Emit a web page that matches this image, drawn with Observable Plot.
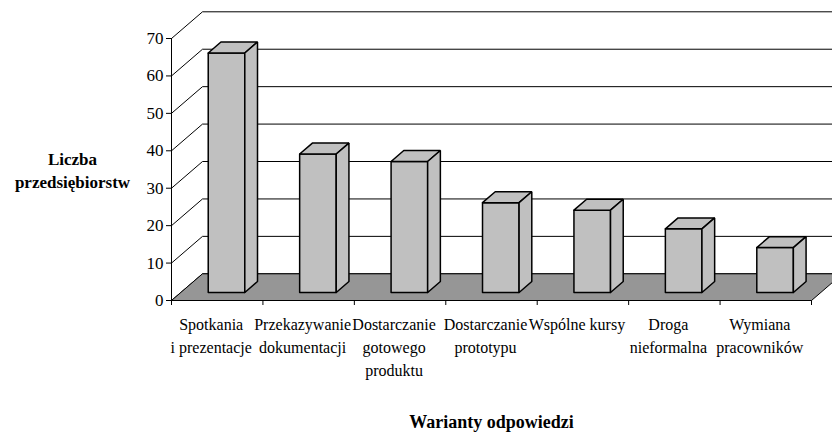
<!DOCTYPE html>
<html>
<head>
<meta charset="utf-8">
<script src="https://cdn.jsdelivr.net/npm/d3@7"></script>
<script src="https://cdn.jsdelivr.net/npm/@observablehq/plot@0.6"></script>
<style>
  html, body { margin: 0; padding: 0; background: #fff; overflow: hidden; }
</style>
</head>
<body>
<div id="chart"></div>
<script>
// ---- data ----
const categories = [
  "Spotkania\ni prezentacje",
  "Przekazywanie\ndokumentacji",
  "Dostarczanie\ngotowego\nproduktu",
  "Dostarczanie\nprototypu",
  "Wspólne kursy",
  "Droga\nnieformalna",
  "Wymiana\npracowników"
];
const values = [64, 37, 35, 24, 22, 17, 12];
const yTicks = [0, 10, 20, 30, 40, 50, 60, 70];
const yTitle = "Liczba\nprzedsiębiorstw";
const xTitle = "Warianty odpowiedzi";

// ---- layout / 3D projection ----
const W = 832, H = 432;
const margin = {top: 38, right: 21, bottom: 132, left: 171};
const n = categories.length;
const yMax = 70;
const depthPx = [31, 26.7];           // pixel shift from front plane to back wall
const pxPerX = (W - margin.left - margin.right) / n;
const pxPerY = (H - margin.top - margin.bottom) / yMax;
const DX = depthPx[0] / pxPerX;
const DY = depthPx[1] / pxPerY;
const proj = ([x, y, d]) => ({x: x + d * DX, y: y + d * DY});

const barHalf = 0.2, d0 = 0.3, d1 = 0.71;

// bar faces as closed polygons
const faces = [];
values.forEach((v, i) => {
  const c = i + 0.5, x0 = c - barHalf, x1 = c + barHalf;
  const quads = {
    front: [[x0, 0, d0], [x1, 0, d0], [x1, v, d0], [x0, v, d0]],
    top:   [[x0, v, d0], [x1, v, d0], [x1, v, d1], [x0, v, d1]],
    side:  [[x1, 0, d0], [x1, 0, d1], [x1, v, d1], [x1, v, d0]]
  };
  for (const [k, q] of Object.entries(quads)) {
    [...q, q[0]].forEach(p => faces.push({id: `${i}-${k}`, ...proj(p)}));
  }
});

// floor polygon
const floorQuad = [[0, 0, 0], [n, 0, 0], [n, 0, 1], [0, 0, 1], [0, 0, 0]].map(proj);

const chart = Plot.plot({
  width: W,
  height: H,
  marginTop: margin.top,
  marginRight: margin.right,
  marginBottom: margin.bottom,
  marginLeft: margin.left,
  style: {
    fontFamily: "'Liberation Serif', 'Times New Roman', serif",
    fontSize: "17px",
    background: "#fff",
    color: "#000",
    overflow: "hidden"
  },
  x: {domain: [0, n], ticks: d3.range(n + 1), tickFormat: () => "", tickSize: 5, label: null},
  y: {domain: [0, yMax], ticks: yTicks, tickSize: 5, tickPadding: 3, label: null},
  marks: [
    // back wall gridlines
    Plot.link(yTicks, {x1: () => DX, x2: () => n + DX, y1: t => t + DY, y2: t => t + DY, stroke: "#000", strokeWidth: 1}),
    // side wall diagonals
    Plot.link(yTicks, {x1: () => 0, y1: t => t, x2: () => DX, y2: t => t + DY, stroke: "#000", strokeWidth: 1}),
    // front value axis line
    Plot.ruleX([0], {y1: 0, y2: yMax, stroke: "#000", strokeWidth: 1}),
    // floor
    Plot.line(floorQuad, {x: "x", y: "y", fill: "#969696", stroke: "#000", strokeWidth: 1}),
    // category axis line
    Plot.ruleY([0], {x1: 0, x2: n, stroke: "#000", strokeWidth: 1}),
    // bars
    Plot.line(faces, {x: "x", y: "y", z: "id", fill: "#c0c0c0", stroke: "#000", strokeWidth: 1.5, strokeLinejoin: "miter"}),
    // category labels
    Plot.text(categories, {
      x: (d, i) => i + 0.5, y: () => 0, text: d => d,
      dy: 13, dx: -6, lineAnchor: "top", lineHeight: 1.45, fontSize: 16, textAnchor: "middle"
    }),
    // y title
    Plot.text([yTitle], {
      text: d => d, frameAnchor: "left", dx: -99, textAnchor: "middle",
      lineAnchor: "middle", lineHeight: 1.35, fontSize: 17, fontWeight: "bold"
    }),
    // x title
    Plot.text([xTitle], {
      text: d => d, frameAnchor: "bottom", dy: 122, textAnchor: "middle",
      lineAnchor: "middle", fontSize: 18, fontWeight: "bold"
    })
  ]
});
document.getElementById("chart").append(chart);
</script>
</body>
</html>
